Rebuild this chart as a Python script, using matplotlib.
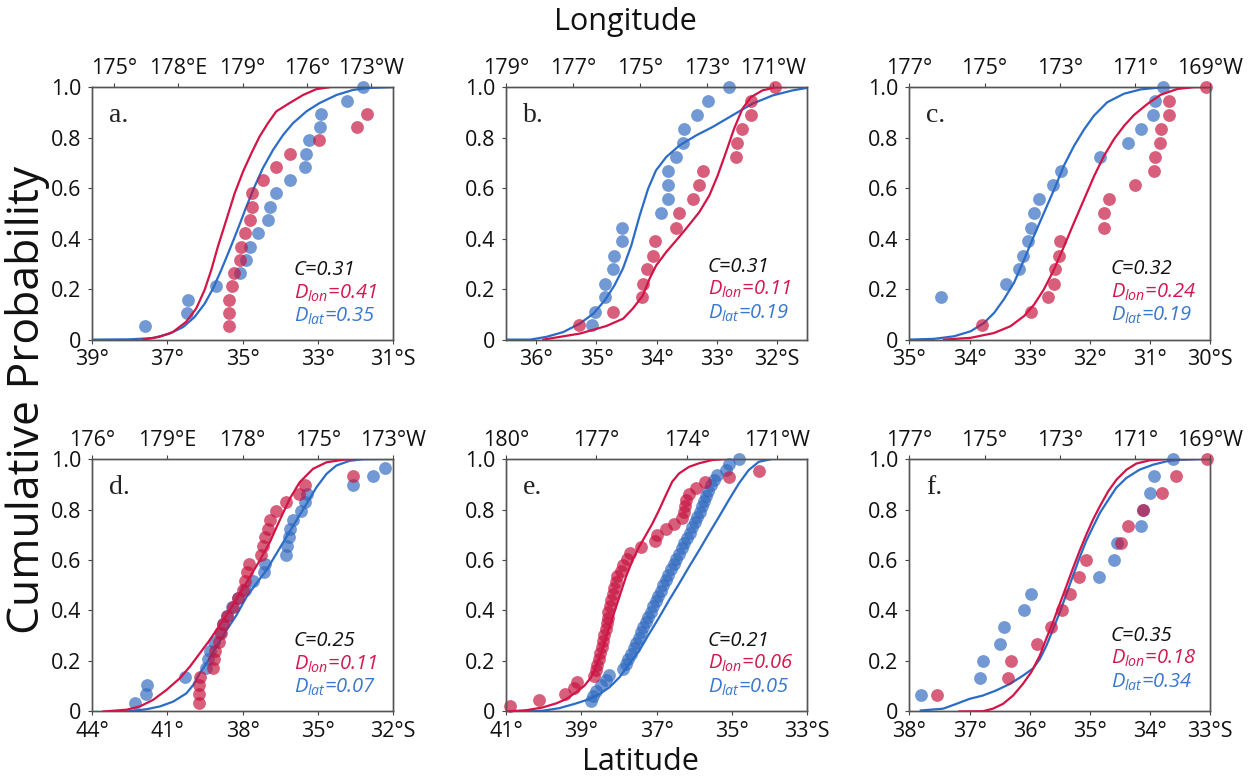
import matplotlib
matplotlib.use("Agg")
import matplotlib.pyplot as plt

plt.rcParams['font.family'] = ['Open Sans', 'DejaVu Sans']
plt.rcParams['mathtext.fontset'] = 'custom'
plt.rcParams['mathtext.it'] = 'Open Sans:italic'
plt.rcParams['mathtext.rm'] = 'Open Sans'

RED_PT = '#c6133e'
BLUE_PT = '#3069bf'
RED_LN = '#d21446'
BLUE_LN = '#2a6cc6'
RED_TX = '#d11a4f'
BLUE_TX = '#3a78cc'

# cumulative levels
p15 = [0.067, 0.133, 0.2, 0.267, 0.333, 0.4, 0.467, 0.533, 0.6, 0.667, 0.733, 0.8, 0.867, 0.933, 1.0]
p18 = [0.056, 0.111, 0.167, 0.222, 0.278, 0.333, 0.389, 0.444, 0.5, 0.556, 0.611, 0.667,
       0.722, 0.778, 0.833, 0.889, 0.944, 1.0]
p19 = [0.053, 0.105, 0.158, 0.211, 0.263, 0.316, 0.368, 0.421, 0.474, 0.526, 0.579, 0.632,
       0.684, 0.737, 0.789, 0.842, 0.895, 0.947, 1.0]
p29 = [0.034, 0.069, 0.103, 0.138, 0.172, 0.207, 0.241, 0.276, 0.31, 0.345, 0.379, 0.414,
       0.448, 0.483, 0.517, 0.552, 0.586, 0.621, 0.655, 0.69, 0.724, 0.759, 0.793, 0.828,
       0.862, 0.897, 0.931, 0.966, 1.0]

# ---- panel a ----
a_lat = [-37.6, -36.49, -36.46, -35.71, -35.08, -34.9, -34.81, -34.59, -34.31, -34.28, -34.12,
         -33.73, -33.35, -33.32, -33.23, -32.95, -32.9, -32.23, -31.79]
a_lat_p = p19
a_lon = [180.39, 180.39, 180.39, 180.52, 180.58, 180.86, 180.94, 181.12, 181.33, 181.45, 181.45,
         181.95, 182.57, 183.19, 184.56, 186.33, 186.8]
a_lon_p = p19[:17]
a_lat_fx = [-39.0, -38.01, -37.39, -36.95, -36.59, -36.28, -36.01, -35.79, -35.57, -35.35, -35.12,
            -34.9, -34.68, -34.46, -34.19, -33.92, -33.66, -33.3, -32.95, -32.5, -32.06, -31.61, -31.0]
a_lat_fy = [0, 0.001, 0.006, 0.023, 0.049, 0.089, 0.142, 0.201, 0.275, 0.354, 0.44, 0.526, 0.606,
            0.679, 0.751, 0.811, 0.857, 0.904, 0.937, 0.969, 0.989, 0.997, 1.0]
a_lon_fx = [176.35, 177.13, 177.75, 178.37, 178.84, 179.23, 179.54, 179.85, 180.24, 180.63, 181.02,
            181.41, 181.79, 182.18, 182.57, 183.19, 183.82, 184.44, 185.06]
a_lon_fy = [0, 0.011, 0.03, 0.07, 0.123, 0.196, 0.275, 0.368, 0.473, 0.579, 0.665, 0.738, 0.804,
            0.857, 0.904, 0.937, 0.969, 0.992, 1.0]

# ---- panel b ----
b_lat = [-35.08, -35.03, -34.86, -34.86, -34.72, -34.70, -34.58, -34.57, -33.92, -33.81, -33.81,
         -33.81, -33.67, -33.56, -33.55, -33.33, -33.15, -32.79]
b_lat_p = p18
b_lon = [183.19, 184.2, 185.07, 185.09, 185.21, 185.39, 185.44, 186.09, 186.17, 186.58, 186.78,
         186.9, 187.87, 187.92, 188.05, 188.32, 188.32, 189.05]
b_lon_p = p18
b_lat_fx = [-36.5, -36.10, -35.83, -35.55, -35.28, -35.05, -34.86, -34.70, -34.56, -34.42, -34.28,
            -34.14, -34.01, -33.84, -33.62, -33.34, -33.07, -32.74, -32.41, -32.07, -31.74, -31.5]
b_lat_fy = [0, 0, 0.011, 0.03, 0.063, 0.103, 0.156, 0.215, 0.281, 0.373, 0.492, 0.598, 0.67,
            0.723, 0.769, 0.809, 0.842, 0.888, 0.934, 0.967, 0.987, 0.997]
b_lon_fx = [182.11, 183.21, 184.0, 184.5, 184.79, 185.09, 185.29, 185.49, 185.79, 186.09, 186.38,
            186.78, 187.08, 187.33, 187.58, 187.82, 188.07, 188.32, 188.67, 189.07, 189.36]
b_lon_fy = [0, 0.024, 0.054, 0.083, 0.123, 0.175, 0.241, 0.294, 0.347, 0.393, 0.439, 0.505,
            0.571, 0.65, 0.743, 0.835, 0.914, 0.96, 0.987, 1.0, 1.0]

# ---- panel c ----
c_lat = [-34.48, -33.39, -33.18, -33.11, -33.03, -32.97, -32.92, -32.84, -32.61, -32.47, -31.83,
         -31.37, -31.15, -30.94, -30.91, -30.79]
c_lat_p = p18[2:]
c_lon = [184.94, 186.24, 186.69, 186.85, 186.88, 186.98, 187.0, 188.18, 188.18, 188.32, 189.0,
         189.52, 189.54, 189.68, 189.69, 189.92, 189.92, 190.89]
c_lon_p = p18
c_lat_fx = [-35.0, -34.59, -34.26, -33.98, -33.76, -33.59, -33.43, -33.26, -33.09, -32.93, -32.76,
            -32.59, -32.43, -32.26, -32.09, -31.93, -31.71, -31.43, -31.15, -30.82, -30.48]
c_lat_fy = [0, 0.003, 0.013, 0.033, 0.066, 0.106, 0.159, 0.225, 0.318, 0.41, 0.503, 0.596,
            0.689, 0.768, 0.834, 0.887, 0.94, 0.974, 0.991, 0.999, 1.0]
c_lon_fx = [183.92, 184.63, 185.25, 185.69, 186.05, 186.32, 186.58, 186.85, 187.12, 187.38, 187.65,
            187.92, 188.18, 188.45, 188.72, 188.98, 189.34, 189.69, 190.14, 190.58, 190.94]
c_lon_fy = [0, 0.007, 0.026, 0.053, 0.093, 0.139, 0.199, 0.278, 0.371, 0.463, 0.556, 0.649,
            0.728, 0.795, 0.848, 0.89, 0.934, 0.97, 0.993, 1.0, 1.0]

# ---- panel d ----
d_lat = [-42.30, -41.86, -41.81, -40.30, -39.44, -39.38, -39.28, -39.15, -38.91, -38.78, -38.64,
         -38.44, -38.18, -37.91, -37.58, -37.15, -37.11, -36.25, -36.23, -36.15, -36.12, -35.99,
         -35.65, -35.52, -35.43, -33.59, -32.80, -32.33]
d_lat_p = p29[:28]
d_lon = [180.27, 180.27, 180.27, 180.29, 180.82, 180.85, 180.89, 181.06, 181.12, 181.22, 181.36,
         181.62, 181.82, 182.0, 182.09, 182.18, 182.26, 182.75, 182.82, 182.89, 183.02, 183.11,
         183.35, 183.72, 184.25, 184.48, 186.41]
d_lon_p = p29[:27]
d_lat_fx = [-42.63, -41.83, -41.3, -40.77, -40.24, -39.97, -39.71, -39.44, -39.04, -38.64, -38.24,
            -37.84, -37.45, -37.05, -36.65, -36.25, -35.85, -35.45, -35.05, -34.65, -34.26, -33.73,
            -33.2, -32.0]
d_lat_fy = [0, 0.009, 0.02, 0.039, 0.072, 0.105, 0.151, 0.191, 0.257, 0.322, 0.382, 0.454, 0.507,
            0.559, 0.625, 0.691, 0.757, 0.822, 0.888, 0.941, 0.974, 0.993, 0.999, 1.0]
d_lon_fx = [176.44, 177.37, 177.9, 178.43, 178.97, 179.5, 179.9, 180.29, 180.69, 181.09, 181.49,
            181.89, 182.29, 182.69, 183.09, 183.48, 183.88, 184.28, 184.81, 185.35, 186.01, 186.54]
d_lon_fy = [0, 0.007, 0.02, 0.046, 0.086, 0.132, 0.178, 0.23, 0.283, 0.342, 0.401, 0.467, 0.533,
            0.599, 0.671, 0.757, 0.842, 0.908, 0.961, 0.987, 0.997, 1.0]

# ---- panel e ----
e_lat = [-38.75, -38.68, -38.6, -38.48, -38.35, -38.26, -37.89, -37.82, -37.77, -37.68, -37.6,
         -37.55, -37.48, -37.42, -37.36, -37.29, -37.22, -37.15, -37.09, -37.02, -36.95, -36.89,
         -36.83, -36.76, -36.69, -36.61, -36.53, -36.47, -36.4, -36.33, -36.26, -36.19, -36.12,
         -36.05, -35.98, -35.92, -35.85, -35.8, -35.74, -35.68, -35.63, -35.56, -35.47, -35.39,
         -35.16, -35.08, -34.81]
e_lat_p = [0.042, 0.063, 0.083, 0.104, 0.125, 0.146, 0.167, 0.188, 0.208, 0.229, 0.25, 0.271,
           0.292, 0.313, 0.333, 0.354, 0.375, 0.396, 0.417, 0.438, 0.458, 0.479, 0.5, 0.521,
           0.542, 0.563, 0.583, 0.604, 0.625, 0.646, 0.667, 0.688, 0.708, 0.729, 0.75, 0.771,
           0.792, 0.813, 0.833, 0.854, 0.875, 0.896, 0.917, 0.938, 0.958, 0.979, 1.0]
e_lon = [180.11, 181.1, 181.97, 182.27, 182.34, 182.93, 182.98, 183.01, 183.07, 183.12, 183.18,
         183.23, 183.26, 183.32, 183.34, 183.37, 183.4, 183.45, 183.48, 183.54, 183.59, 183.65,
         183.7, 183.81, 183.89, 184.03, 184.11, 184.48, 184.95, 185.0, 185.31, 185.58, 185.86,
         185.91, 185.95, 185.97, 186.08, 186.3, 186.61, 187.41, 188.4]
e_lon_p = [0.023, 0.047, 0.07, 0.093, 0.116, 0.14, 0.163, 0.186, 0.209, 0.233, 0.256, 0.279,
           0.302, 0.326, 0.349, 0.372, 0.395, 0.419, 0.442, 0.465, 0.488, 0.512, 0.535, 0.558,
           0.581, 0.605, 0.628, 0.651, 0.674, 0.698, 0.721, 0.744, 0.767, 0.791, 0.814, 0.837,
           0.86, 0.884, 0.907, 0.93, 0.953]
e_lat_fx = [-41.0, -40.03, -39.59, -39.14, -38.79, -38.52, -38.26, -37.99, -37.73, -37.46, -37.2,
            -36.93, -36.67, -36.4, -36.14, -35.87, -35.61, -35.34, -35.08, -34.81, -34.55, -34.28,
            -33.93, -33.0]
e_lat_fy = [0, 0.003, 0.013, 0.032, 0.049, 0.069, 0.095, 0.135, 0.188, 0.241, 0.307, 0.373, 0.44,
            0.506, 0.572, 0.638, 0.704, 0.771, 0.837, 0.903, 0.956, 0.989, 1.0, 1.0]
e_lon_fx = [180.0, 180.66, 181.21, 181.66, 181.99, 182.32, 182.6, 182.82, 182.98, 183.15, 183.32,
            183.54, 183.76, 183.98, 184.2, 184.42, 184.64, 184.86, 185.08, 185.31, 185.52, 185.75,
            186.08, 186.41, 186.85, 187.3]
e_lon_fy = [0, 0.005, 0.016, 0.032, 0.049, 0.076, 0.102, 0.135, 0.175, 0.228, 0.294, 0.373, 0.453,
            0.533, 0.599, 0.652, 0.698, 0.744, 0.797, 0.857, 0.91, 0.943, 0.969, 0.983, 0.996, 1.0]

# ---- panel f ----
f_lat = [-37.81, -36.82, -36.77, -36.5, -36.42, -36.09, -35.97, -34.84, -34.6, -34.54, -34.14,
         -34.11, -33.99, -33.93, -33.62]
f_lat_p = p15
f_lon = [183.74, 185.62, 185.71, 186.4, 186.76, 187.06, 187.28, 187.52, 187.71, 188.63, 188.82,
         189.22, 189.71, 190.09, 190.93]
f_lon_p = p15
f_lat_fx = [-37.81, -37.44, -37.22, -37.0, -36.78, -36.56, -36.33, -36.11, -35.94, -35.83, -35.72,
            -35.61, -35.5, -35.39, -35.28, -35.17, -35.06, -34.94, -34.83, -34.69, -34.56, -34.39,
            -34.17, -33.94, -33.72, -33.5, -33.28, -33.0]
f_lat_fy = [0.004, 0.011, 0.03, 0.05, 0.063, 0.083, 0.109, 0.142, 0.171, 0.208, 0.261, 0.326,
            0.392, 0.464, 0.537, 0.609, 0.675, 0.734, 0.787, 0.839, 0.886, 0.925, 0.958, 0.978,
            0.991, 0.997, 0.999, 1.0]
f_lon_fx = [184.33, 184.96, 185.22, 185.49, 185.76, 186.02, 186.24, 186.47, 186.64, 186.82, 187.0,
            187.18, 187.36, 187.53, 187.71, 187.89, 188.07, 188.29, 188.51, 188.78, 189.04, 189.4,
            189.84, 190.56]
f_lon_fy = [0, 0.001, 0.011, 0.03, 0.063, 0.109, 0.155, 0.221, 0.287, 0.353, 0.425, 0.497, 0.57,
            0.636, 0.701, 0.761, 0.813, 0.872, 0.918, 0.958, 0.982, 0.995, 1.0, 1.0]

# axis ranges / ticks (longitude in degrees east, 0-360)
lat_lims = [(-39, -31), (-36.5, -31.5), (-35, -30), (-44, -32), (-41, -33), (-38, -33)]
lat_ticks = [[-39, -37, -35, -33, -31], [-36, -35, -34, -33, -32], [-35, -34, -33, -32, -31, -30],
             [-44, -41, -38, -35, -32], [-41, -39, -37, -35, -33], [-38, -37, -36, -35, -34, -33]]
lat_labels = [['39°', '37°', '35°', '33°', '31°S'], ['36°', '35°', '34°', '33°', '32°S'],
              ['35°', '34°', '33°', '32°', '31°', '30°S'], ['44°', '41°', '38°', '35°', '32°S'],
              ['41°', '39°', '37°', '35°', '33°S'], ['38°', '37°', '36°', '35°', '34°', '33°S']]
lon_lims = [(174, 188), (181, 190), (183, 191), (176, 188), (180, 190), (183, 191)]
lon_ticks = [[175, 178, 181, 184, 187], [181, 183, 185, 187, 189], [183, 185, 187, 189, 191],
             [176, 179, 182, 185, 188], [180, 183, 186, 189], [183, 185, 187, 189, 191]]
lon_labels = [['175°', '178°E', '179°', '176°', '173°W'], ['179°', '177°', '175°', '173°', '171°W'],
              ['177°', '175°', '173°', '171°', '169°W'], ['176°', '179°E', '178°', '175°', '173°W'],
              ['180°', '177°', '174°', '171°W'], ['177°', '175°', '173°', '171°', '169°W']]

letters = ['a.', 'b.', 'c.', 'd.', 'e.', 'f.']
c_vals = ['0.31', '0.31', '0.32', '0.25', '0.21', '0.35']
dlon_vals = ['0.41', '0.11', '0.24', '0.11', '0.06', '0.18']
dlat_vals = ['0.35', '0.19', '0.19', '0.07', '0.05', '0.34']
txt_y = [0.255, 0.268, 0.258, 0.258, 0.26, 0.28]

lat_pts = [(a_lat, a_lat_p), (b_lat, b_lat_p), (c_lat, c_lat_p), (d_lat, d_lat_p), (e_lat, e_lat_p), (f_lat, f_lat_p)]
lon_pts = [(a_lon, a_lon_p), (b_lon, b_lon_p), (c_lon, c_lon_p), (d_lon, d_lon_p), (e_lon, e_lon_p), (f_lon, f_lon_p)]
lat_fit = [(a_lat_fx, a_lat_fy), (b_lat_fx, b_lat_fy), (c_lat_fx, c_lat_fy), (d_lat_fx, d_lat_fy),
           (e_lat_fx, e_lat_fy), (f_lat_fx, f_lat_fy)]
lon_fit = [(a_lon_fx, a_lon_fy), (b_lon_fx, b_lon_fy), (c_lon_fx, c_lon_fy), (d_lon_fx, d_lon_fy),
           (e_lon_fx, e_lon_fy), (f_lon_fx, f_lon_fy)]

fig = plt.figure(figsize=(12.5, 7.78), dpi=100)
lefts = [0.0738, 0.405, 0.7275]
bottoms = [0.5635, 0.0855]
W, H = 0.2405, 0.3245

for i in range(6):
    ax = fig.add_axes([lefts[i % 3], bottoms[i // 3], W, H])
    ax2 = ax.twiny()

    ax.scatter(lat_pts[i][0], lat_pts[i][1], s=85, color=BLUE_PT, alpha=0.68, lw=0, clip_on=False, zorder=2)
    ax.plot(lat_fit[i][0], lat_fit[i][1], color=BLUE_LN, lw=1.6, zorder=3)
    ax2.scatter(lon_pts[i][0], lon_pts[i][1], s=85, color=RED_PT, alpha=0.68, lw=0, clip_on=False, zorder=2)
    ax2.plot(lon_fit[i][0], lon_fit[i][1], color=RED_LN, lw=1.6, zorder=3)

    ax.set_xlim(*lat_lims[i])
    ax.set_xticks(lat_ticks[i])
    ax.set_xticklabels(lat_labels[i])
    ax2.set_xlim(*lon_lims[i])
    ax2.set_xticks(lon_ticks[i])
    ax2.set_xticklabels(lon_labels[i])
    ax.set_ylim(0, 1)
    ax.set_yticks([0, 0.2, 0.4, 0.6, 0.8, 1.0])
    ax.set_yticklabels(['0', '0.2', '0.4', '0.6', '0.8', '1.0'])

    for a in (ax, ax2):
        a.tick_params(direction='out', length=3, width=0.8, color='#444444', labelsize=15.5,
                      labelcolor='#111111', pad=2.5)
        for sp in a.spines.values():
            sp.set_color('#555555')
            sp.set_linewidth(1.0)
    ax.tick_params(axis='x', pad=4)
    ax.tick_params(axis='y', pad=5)

    ax.text(0.055, 0.86, letters[i], transform=ax.transAxes, fontsize=20,
            family='Liberation Serif', color='#222222')
    ty = txt_y[i]
    ax2.text(0.67, ty, 'C=' + c_vals[i], transform=ax.transAxes, fontsize=14.5, style='italic', color='#111111')
    ax2.text(0.67, ty - 0.092, r'$D_{lon}$=' + dlon_vals[i], transform=ax.transAxes, fontsize=14.5,
             style='italic', color=RED_TX)
    ax2.text(0.67, ty - 0.184, r'$D_{lat}$=' + dlat_vals[i], transform=ax.transAxes, fontsize=14.5,
             style='italic', color=BLUE_TX)

fig.text(0.5, 1 - 22 / 778, 'Longitude', ha='center', va='center', fontsize=22, color='#111111')
fig.text(0.512, 1 - 762 / 778, 'Latitude', ha='center', va='center', fontsize=22, color='#111111')
fig.text(0.0224, 0.486, 'Cumulative Probability', ha='center', va='center', rotation=90,
         fontsize=32, color='#111111')

fig.savefig('out.png', dpi=100)
